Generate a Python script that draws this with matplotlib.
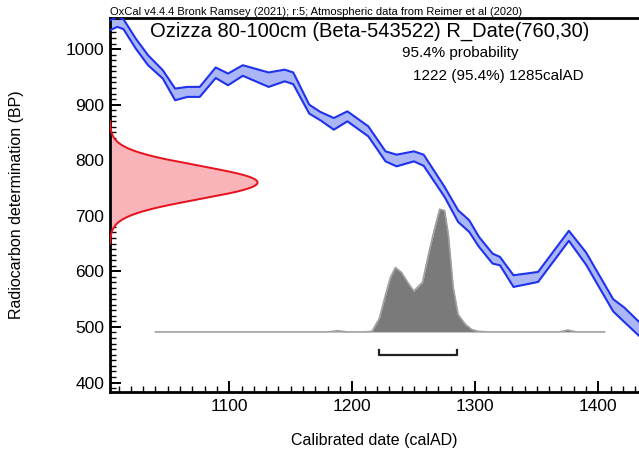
import numpy as np
import matplotlib
matplotlib.use("Agg")
import matplotlib.pyplot as plt
from matplotlib.ticker import MultipleLocator

plt.rcParams['font.family'] = ['Liberation Sans', 'DejaVu Sans']

# calibration curve (IntCal20): year, upper and lower edge of band
cal_year = [1003, 1009, 1014, 1024, 1034, 1046, 1056, 1066, 1076, 1089, 1099, 1111,
            1132, 1145, 1152, 1165, 1174, 1185, 1196, 1213, 1227, 1236, 1250, 1258,
            1275, 1286, 1295, 1303, 1314, 1320, 1331, 1351, 1376, 1390, 1412, 1421, 1434]
cal_upper = [1052, 1058, 1054, 1019, 989, 962, 929, 932, 932, 967, 956, 971,
             958, 963, 958, 900, 887, 876, 888, 861, 816, 810, 816, 810,
             752, 710, 692, 662, 632, 626, 593, 599, 673, 634, 550, 535, 507]
cal_lower = [1034, 1040, 1036, 1001, 971, 947, 908, 914, 914, 948, 935, 952,
             932, 942, 937, 884, 872, 855, 870, 843, 798, 789, 798, 790,
             734, 689, 671, 644, 614, 611, 572, 581, 655, 612, 528, 509, 482]

# radiocarbon date
r_mean = 760
r_sigma = 30

# calibrated posterior (relative, max = 1)
post_year = [1040, 1180, 1188, 1196, 1210, 1216, 1222, 1227, 1231, 1235, 1240, 1245,
             1250, 1257, 1262, 1267, 1271, 1275, 1278, 1282, 1286, 1292, 1297, 1302,
             1310, 1368, 1375, 1382, 1405]
post_prob = [0, 0, 0.01, 0, 0, 0.005, 0.11, 0.30, 0.44, 0.52, 0.48, 0.40,
             0.33, 0.40, 0.63, 0.84, 0.99, 0.98, 0.79, 0.36, 0.14, 0.06, 0.02, 0.005,
             0, 0, 0.015, 0, 0]

range_lo, range_hi = 1222, 1285

fig = plt.figure(figsize=(6.39, 4.5), dpi=100)
ax = fig.add_axes([0.172, 0.129, 0.828, 0.831])
ax.set_xlim(1003, 1433)
ax.set_ylim(383, 1056)

# calibration band
ax.fill_between(cal_year, cal_lower, cal_upper, color='#aab6f5', lw=0, zorder=2)
ax.plot(cal_year, cal_upper, color='#1e32ee', lw=1.5, zorder=3)
ax.plot(cal_year, cal_lower, color='#1e32ee', lw=1.5, zorder=3)

# radiocarbon date as normal curve from the y axis
bp = np.linspace(r_mean - 110, r_mean + 110, 300)
dens = np.exp(-0.5 * ((bp - r_mean) / r_sigma) ** 2)
x0 = ax.get_xlim()[0]
ax.fill_betweenx(bp, x0, x0 + 120 * dens, color='#f8b4b8', lw=0, zorder=2)
ax.plot(x0 + 120 * dens, bp, color='#e8101c', lw=1.4, zorder=3)

# posterior distribution
base = 491
ax.fill_between(post_year, base, base + 223 * np.array(post_prob), color='#7a7a7a', lw=0, zorder=2)
ax.plot(post_year, base + 223 * np.array(post_prob), color='#a0a0a0', lw=1.2, zorder=2)

# 95.4% range bracket
ax.plot([range_lo, range_lo, range_hi, range_hi], [459, 449, 449, 459], color='#222222', lw=1.6)

ax.xaxis.set_major_locator(MultipleLocator(100))
ax.xaxis.set_minor_locator(MultipleLocator(10))
ax.yaxis.set_major_locator(MultipleLocator(100))
ax.yaxis.set_minor_locator(MultipleLocator(10))
ax.tick_params(which='major', direction='in', length=8, width=1.4, labelsize=12.5, pad=4)
ax.tick_params(which='minor', direction='in', length=4, width=1.0)
ax.tick_params(axis='x', pad=5)
for s in ax.spines.values():
    s.set_linewidth(2)
ax.spines['right'].set_visible(False)

ax.set_xlabel('Calibrated date (calAD)', fontsize=11.5, labelpad=14)
ax.set_ylabel('Radiocarbon determination (BP)', fontsize=11.5, labelpad=30)

ax.text(0.076, 0.963, 'Ozizza 80-100cm (Beta-543522) R_Date(760,30)', transform=ax.transAxes,
        fontsize=14.5, va='center', ha='left')
ax.text(0.552, 0.906, '95.4% probability', transform=ax.transAxes, fontsize=11, va='center')
ax.text(0.573, 0.845, '1222 (95.4%) 1285calAD', transform=ax.transAxes, fontsize=11, va='center')
ax.text(0.0, 1.003, 'OxCal v4.4.4 Bronk Ramsey (2021); r:5; Atmospheric data from Reimer et al (2020)',
        transform=ax.transAxes, fontsize=8, va='bottom', ha='left')

fig.savefig('out.png', dpi=100)
